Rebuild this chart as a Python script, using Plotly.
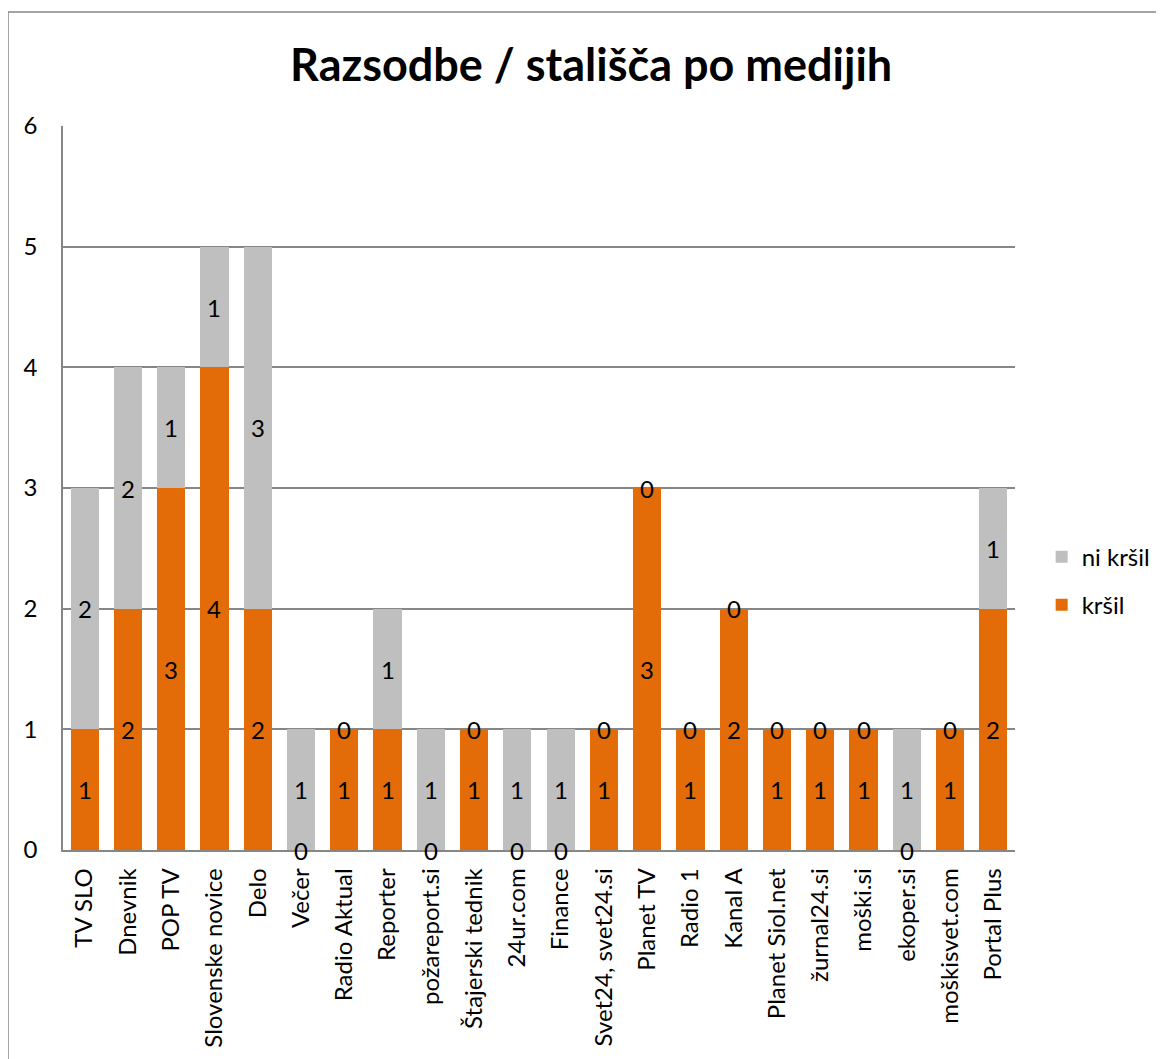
import plotly.graph_objects as go

categories = ["TV SLO", "Dnevnik", "POP TV", "Slovenske novice", "Delo", "Večer",
              "Radio Aktual", "Reporter", "požareport.si", "Štajerski tednik",
              "24ur.com", "Finance", "Svet24, svet24.si", "Planet TV", "Radio 1",
              "Kanal A", "Planet Siol.net", "žurnal24.si", "moški.si", "ekoper.si",
              "moškisvet.com", "Portal Plus"]
krsil = [1, 2, 3, 4, 2, 0, 1, 1, 0, 1, 0, 0, 1, 3, 1, 2, 1, 1, 1, 0, 1, 2]
ni_krsil = [2, 2, 1, 1, 3, 1, 0, 1, 1, 0, 1, 1, 0, 0, 0, 0, 0, 0, 0, 1, 0, 1]
y_ticks = [0, 1, 2, 3, 4, 5, 6]
title_text = "Razsodbe / stališča po medijih"

FONT = "Lato"
FS = 24
ORANGE = "#E36C09"
GRAY = "#BFBFBF"
LINE = "#868686"

fig = go.Figure()
fig.add_trace(go.Bar(x=categories, y=krsil, name="kršil", marker_color=ORANGE,
                     marker_line_width=0, legendgroup="a", legendrank=2))
fig.add_trace(go.Bar(x=categories, y=ni_krsil, name="ni kršil", marker_color=GRAY,
                     marker_line_width=0, legendgroup="b", legendrank=1))

annotations = []
for c, k, n in zip(categories, krsil, ni_krsil):
    annotations.append(dict(x=c, y=k / 2, text=str(k), showarrow=False,
                            xref="x", yref="y", font=dict(family=FONT, size=FS, color="black")))
    annotations.append(dict(x=c, y=k + n / 2, text=str(n), showarrow=False,
                            xref="x", yref="y", font=dict(family=FONT, size=FS, color="black")))

fig.update_layout(
    width=1164, height=1059,
    barmode="stack", bargap=0.35,
    plot_bgcolor="white", paper_bgcolor="white",
    margin=dict(l=55, r=157, t=118, b=217),
    font=dict(family=FONT, size=FS, color="black"),
    title=dict(text="<b>" + title_text + "</b>", x=0.501, xanchor="center",
               y=1 - 57 / 1059, yanchor="middle",
               font=dict(family=FONT, size=45, color="black")),
    legend=dict(x=1.028, y=0.3715, xanchor="left", yanchor="middle",
                traceorder="grouped", font=dict(family=FONT, size=FS),
                tracegroupgap=14),
    annotations=annotations,
    shapes=[dict(type="rect", xref="paper", yref="paper",
                 x0=(0 - 55) / 952, x1=1.5, y0=-0.8, y1=(842 - 4) / 724,
                 line=dict(color=LINE, width=1.5), fillcolor="rgba(0,0,0,0)",
                 layer="below")],
)
fig.update_xaxes(showline=True, linecolor=LINE, linewidth=1.5, tickangle=-90,
                 ticks="", ticklabelstandoff=7, tickfont=dict(family=FONT, size=FS))
fig.update_yaxes(range=[0, 6], tickvals=y_ticks, showgrid=True, gridcolor=LINE,
                 gridwidth=1.5, showline=True, linecolor=LINE, linewidth=1.5,
                 ticks="", ticklabelstandoff=19, zeroline=False,
                 tickfont=dict(family=FONT, size=FS))

fig.write_html("out.html")
